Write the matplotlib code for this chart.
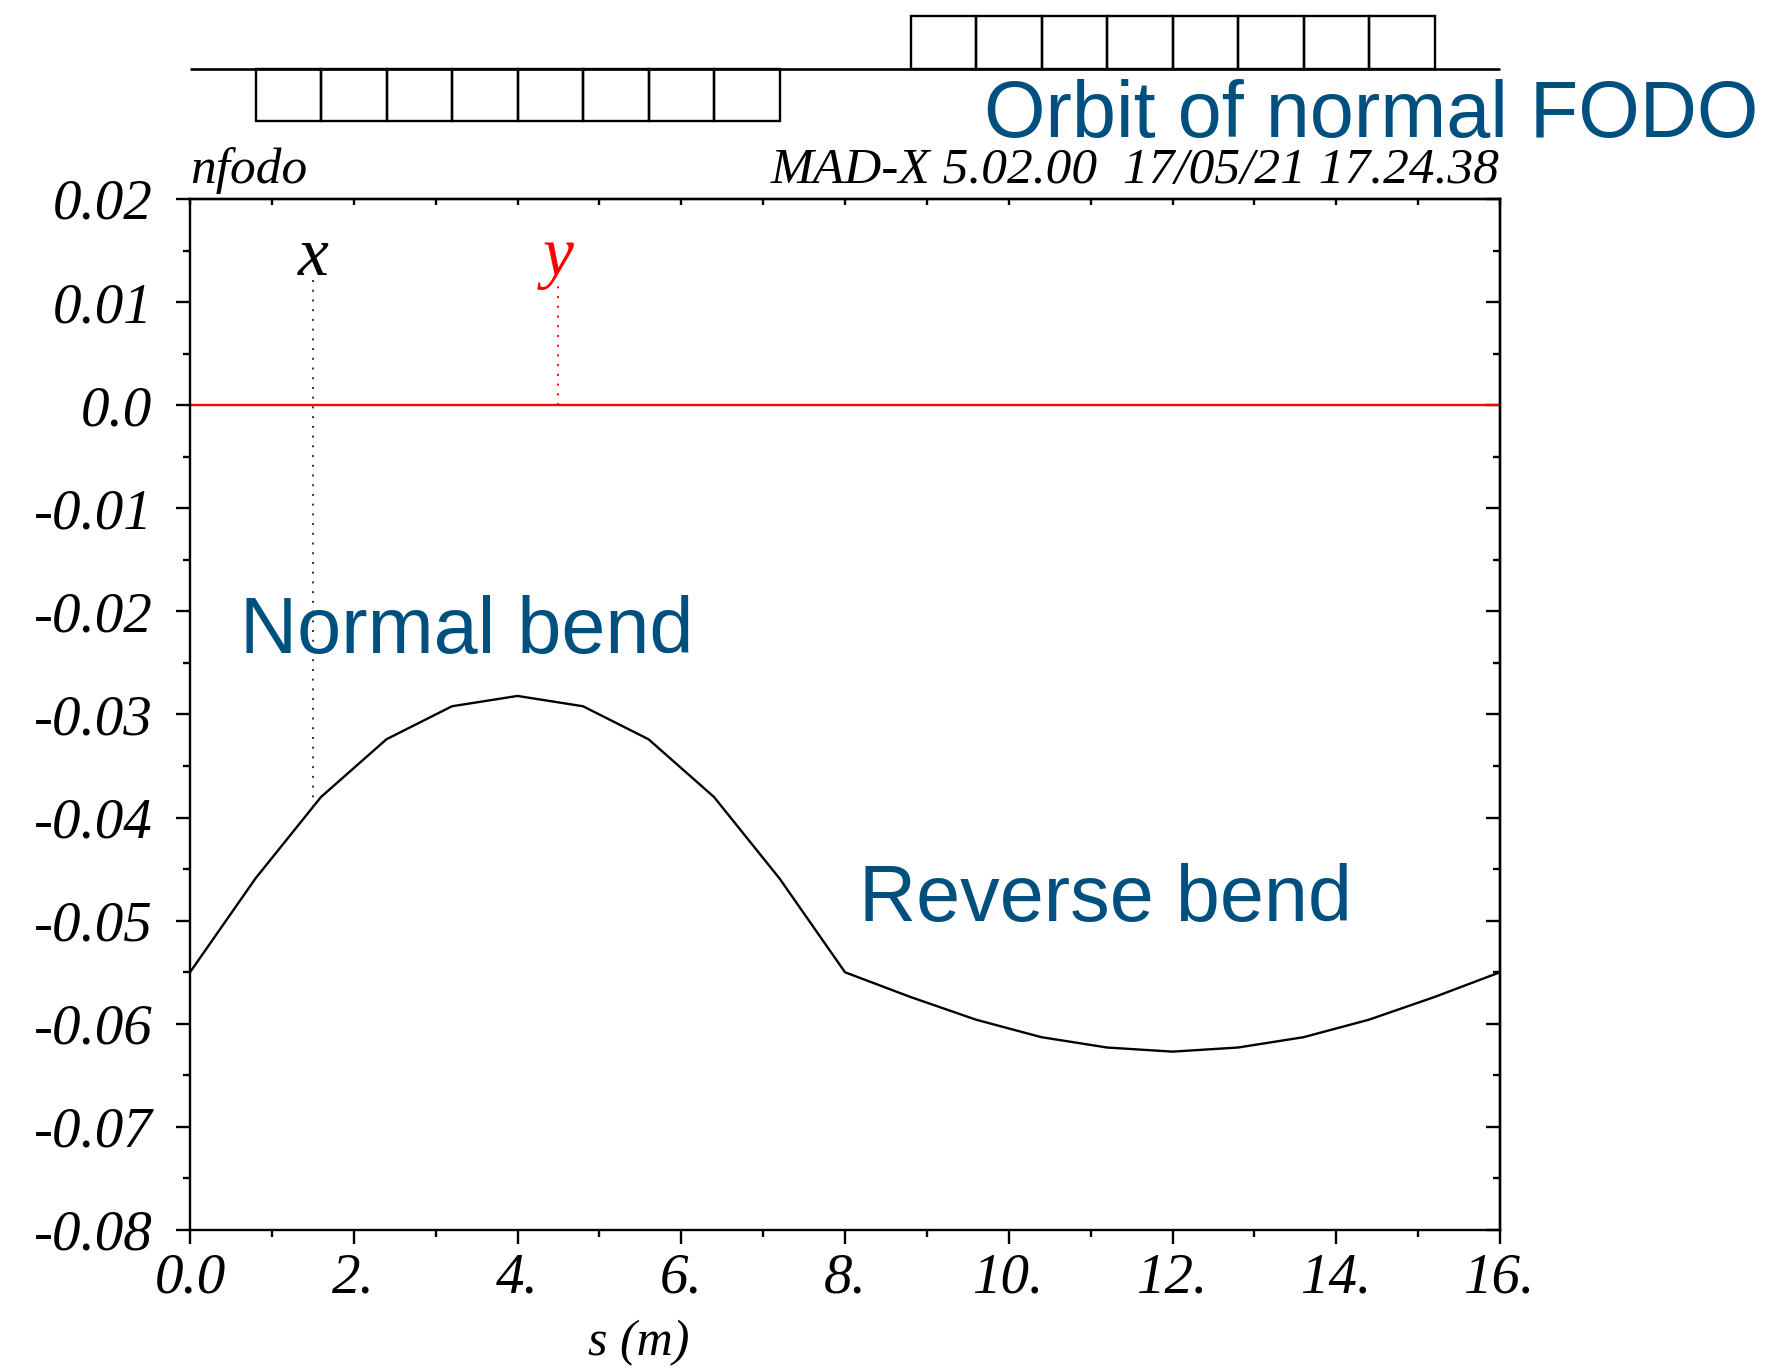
import matplotlib
matplotlib.use("Agg")
import matplotlib.pyplot as plt
from matplotlib.patches import Rectangle
import numpy as np

# orbit along the cell, sampled every 0.8 m
s_pos = [0.0, 0.8, 1.6, 2.4, 3.2, 4.0, 4.8, 5.6, 6.4, 7.2, 8.0,
         8.8, 9.6, 10.4, 11.2, 12.0, 12.8, 13.6, 14.4, 15.2, 16.0]
orbit_x = [-0.0550, -0.0459, -0.0380, -0.0324, -0.0292, -0.0282, -0.0292,
           -0.0324, -0.0380, -0.0459, -0.0550, -0.0574, -0.0596, -0.0613,
           -0.0623, -0.0627, -0.0623, -0.0613, -0.0596, -0.0574, -0.0550]
orbit_y = [0.0] * len(s_pos)

# bends drawn in the layout strip (start positions, all 0.8 m long)
normal_bends = [0.8, 1.6, 2.4, 3.2, 4.0, 4.8, 5.6, 6.4]
reverse_bends = [8.8, 9.6, 10.4, 11.2, 12.0, 12.8, 13.6, 14.4]
bend_len = 0.8

xtick_vals = [0, 2, 4, 6, 8, 10, 12, 14, 16]
xtick_labels = ["0.0", "2.", "4.", "6.", "8.", "10.", "12.", "14.", "16."]
ytick_vals = [0.02, 0.01, 0.0, -0.01, -0.02, -0.03, -0.04, -0.05, -0.06, -0.07, -0.08]
ytick_labels = ["0.02", "0.01", "0.0", "-0.01", "-0.02", "-0.03", "-0.04",
                "-0.05", "-0.06", "-0.07", "-0.08"]

# where the curve names sit
x_label_s = 1.5
y_label_s = 4.5
label_level = 0.0126
marker_top_x = 0.0124
marker_top_y = 0.0117

W, H = 1773, 1372
serif = {"family": "Liberation Serif", "style": "italic"}
blue = "#00507f"
lw = 1.7

fig = plt.figure(figsize=(W / 100, H / 100), dpi=100)

def px(x0, y0, x1, y1):
    # pixel box -> figure fraction rect
    return [x0 / W, 1 - y1 / H, (x1 - x0) / W, (y1 - y0) / H]

ax = fig.add_axes(px(190, 199, 1500, 1230))
ax.plot(s_pos, orbit_x, color="black", lw=lw)
ax.plot(s_pos, orbit_y, color="red", lw=lw)
ax.set_xlim(0, 16)
ax.set_ylim(-0.08, 0.02)

for sp in ax.spines.values():
    sp.set_linewidth(lw)

ax.set_xticks(xtick_vals, labels=xtick_labels)
ax.set_xticks(np.arange(1, 16, 2), minor=True)
ax.set_yticks(ytick_vals, labels=ytick_labels)
ax.set_yticks(np.arange(-0.075, 0.02, 0.01), minor=True)
ax.tick_params(which="major", direction="out", length=10, width=lw, top=False, right=False)
ax.tick_params(which="minor", direction="out", length=5, width=lw, top=False, right=False)
ax.tick_params(axis="y", pad=17)
ax.tick_params(axis="x", pad=6)
for lab in ax.get_xticklabels():
    lab.set_fontproperties({**serif, "size": 41})
for lab in ax.get_yticklabels():
    lab.set_fontproperties({**serif, "size": 41})

# top: short inward ticks every metre
top = ax.secondary_xaxis("top")
top.set_xticks(np.arange(0, 17, 1))
top.tick_params(direction="in", length=4.5, width=lw, labeltop=False)
top.spines["top"].set_linewidth(lw)

# right: inward ticks
right = ax.secondary_yaxis("right")
right.set_yticks(ytick_vals)
right.set_yticks(np.arange(-0.075, 0.02, 0.01), minor=True)
right.tick_params(which="major", direction="in", length=10, width=lw, labelright=False)
right.tick_params(which="minor", direction="in", length=5, width=lw, labelright=False)
right.spines["right"].set_linewidth(lw)

ax.set_xlabel("s (m)", fontdict={**serif, "size": 36})
ax.xaxis.set_label_coords((639 - 190) / 1310, (1230 - 1355) / 1031)
ax.xaxis.label.set_va("baseline")

# curve names with dotted markers
ax.text(x_label_s, label_level, "x", ha="center", va="baseline",
        fontdict={**serif, "size": 50}, color="black")
ax.text(y_label_s, label_level, "y", ha="center", va="baseline",
        fontdict={**serif, "size": 50}, color="red")
ax.vlines(x_label_s, np.interp(x_label_s, s_pos, orbit_x), marker_top_x,
          colors="#333333", linestyles=(0, (1, 4)), lw=1.4)
ax.vlines(y_label_s, np.interp(y_label_s, s_pos, orbit_y), marker_top_y,
          colors="red", linestyles=(0, (1, 4)), lw=1.4)

# header texts
fig.text(190 / W, 1 - 183 / H, "nfodo", fontdict={**serif, "size": 37},
         ha="left", va="baseline")
fig.text(1500 / W, 1 - 183 / H, "MAD-X 5.02.00  17/05/21 17.24.38",
         fontdict={**serif, "size": 37}, ha="right", va="baseline")

# layout strip with the bends
strip = fig.add_axes(px(190, 16, 1500, 121))
strip.set_xlim(0, 16)
strip.set_ylim(-1, 1)
strip.axis("off")
strip.hlines(0, 0, 16, colors="black", lw=1.9, clip_on=False)
for b in normal_bends:
    strip.add_patch(Rectangle((b, -1), bend_len, 1, fill=False, ec="black",
                              lw=lw, clip_on=False))
for b in reverse_bends:
    strip.add_patch(Rectangle((b, 0), bend_len, 1, fill=False, ec="black",
                              lw=lw, clip_on=False))

sans = {"family": "Liberation Sans", "size": 57}
fig.text(984 / W, 1 - 137 / H, "Orbit of normal FODO", fontdict=sans,
         color=blue, ha="left", va="baseline")
fig.text(240 / W, 1 - 653 / H, "Normal bend", fontdict=sans,
         color=blue, ha="left", va="baseline")
fig.text(859 / W, 1 - 921 / H, "Reverse bend", fontdict=sans,
         color=blue, ha="left", va="baseline")

fig.savefig("out.png", dpi=100)
